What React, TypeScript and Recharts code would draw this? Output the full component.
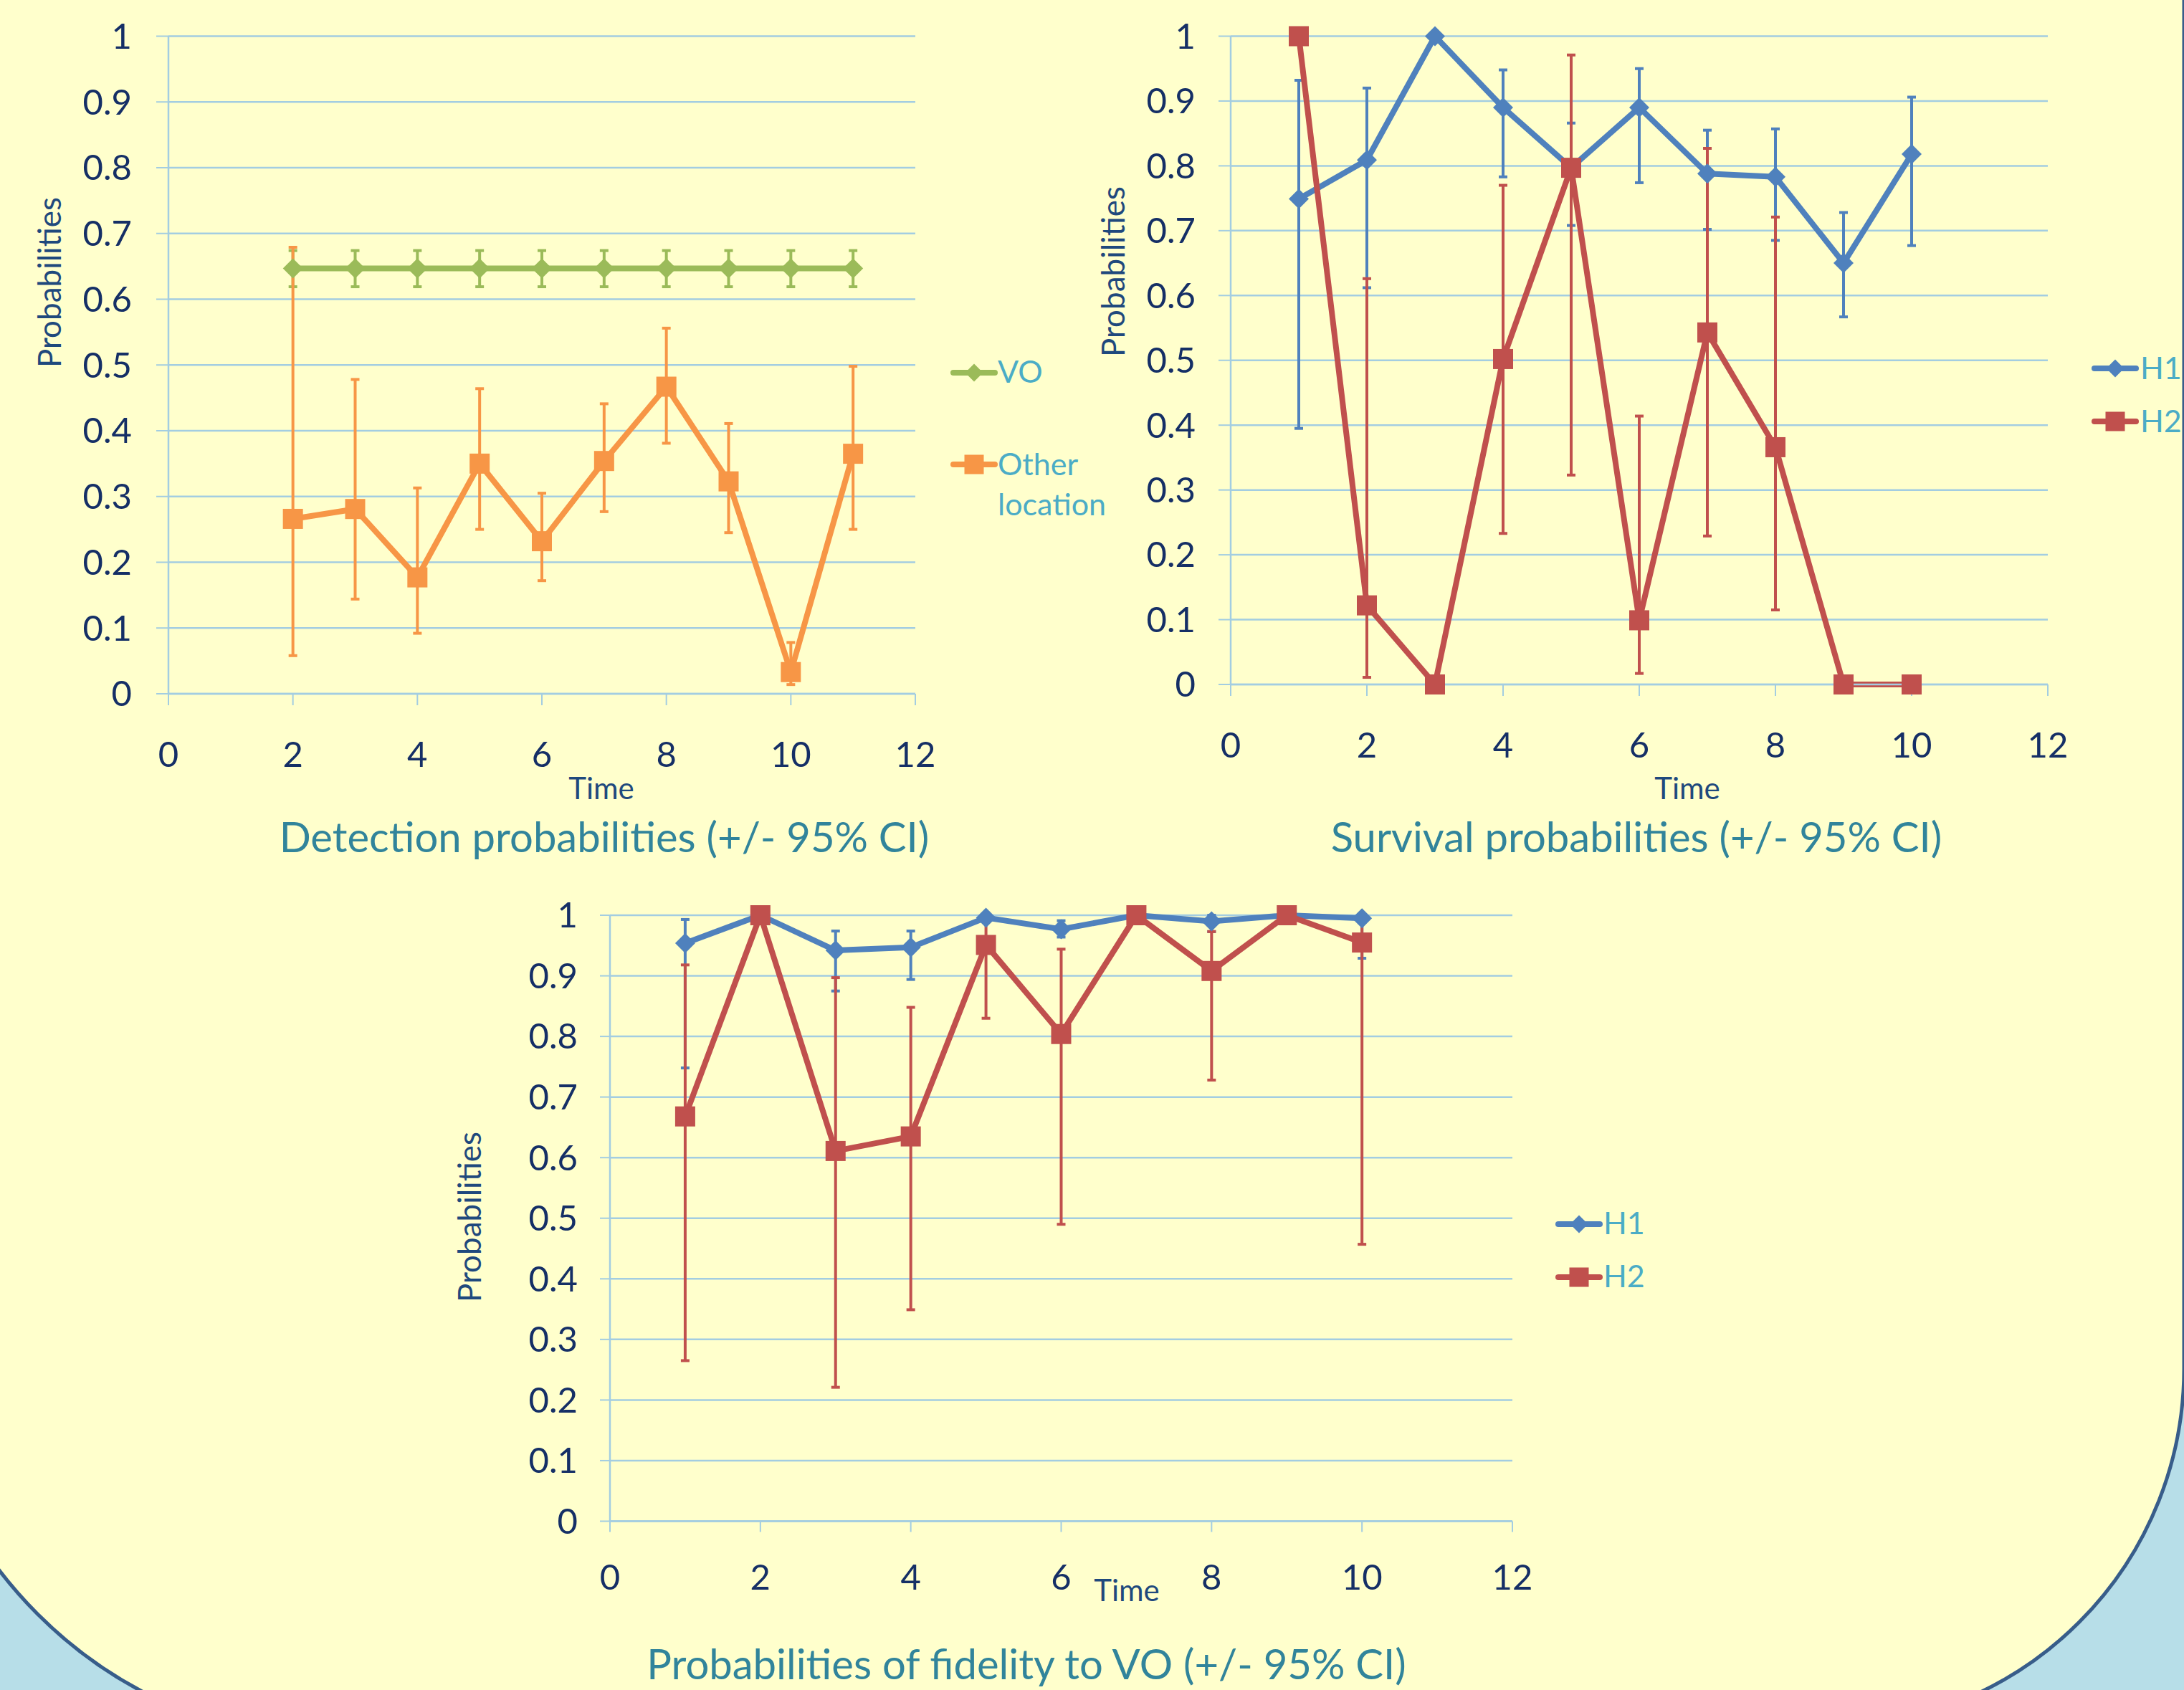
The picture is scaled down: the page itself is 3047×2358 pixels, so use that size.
import React from "react";
import { LineChart, Line, XAxis, YAxis, CartesianGrid, ErrorBar, Legend } from "recharts";

const FONT = "Lato, 'Open Sans', sans-serif";
const GRID = "#A3CDE1";
const TICK_TEXT = "#152F66";
const AXIS_TITLE = "#1F497D";
const CHART_TITLE = "#31849B";
const LEGEND_TEXT = "#4BACC6";

const GREEN = "#9BBB59";
const ORANGE = "#F79646";
const BLUE = "#4F81BD";
const RED = "#C0504D";

const xTicks = [0, 2, 4, 6, 8, 10, 12];
const yTicks = [0, 0.1, 0.2, 0.3, 0.4, 0.5, 0.6, 0.7, 0.8, 0.9, 1];

// Detection probabilities
const detTimes = [2, 3, 4, 5, 6, 7, 8, 9, 10, 11];
const voValues = [0.647, 0.647, 0.647, 0.647, 0.647, 0.647, 0.647, 0.647, 0.647, 0.647];
const voLow = [0.619, 0.619, 0.619, 0.619, 0.619, 0.619, 0.619, 0.619, 0.619, 0.619];
const voHigh = [0.674, 0.674, 0.674, 0.674, 0.674, 0.674, 0.674, 0.674, 0.674, 0.674];
const otherValues = [0.266, 0.281, 0.177, 0.35, 0.232, 0.354, 0.467, 0.323, 0.033, 0.365];
const otherLow = [0.058, 0.144, 0.092, 0.25, 0.172, 0.277, 0.381, 0.245, 0.014, 0.25];
const otherHigh = [0.679, 0.478, 0.313, 0.464, 0.305, 0.441, 0.556, 0.411, 0.078, 0.498];

// Survival probabilities
const survTimes = [1, 2, 3, 4, 5, 6, 7, 8, 9, 10];
const survH1 = [0.749, 0.809, 1.0, 0.89, 0.797, 0.89, 0.788, 0.783, 0.65, 0.818];
const survH1Low = [0.395, 0.612, null, 0.783, 0.708, 0.774, 0.702, 0.685, 0.567, 0.677];
const survH1High = [0.932, 0.92, null, 0.948, 0.866, 0.95, 0.855, 0.857, 0.728, 0.906];
const survH2 = [1.0, 0.122, 0, 0.502, 0.797, 0.099, 0.543, 0.366, 0, 0];
const survH2Low = [null, 0.011, null, 0.233, 0.323, 0.017, 0.229, 0.115, null, null];
const survH2High = [null, 0.626, null, 0.77, 0.971, 0.414, 0.827, 0.721, null, null];

// Fidelity to VO
const fidTimes = [1, 2, 3, 4, 5, 6, 7, 8, 9, 10];
const fidH1 = [0.954, 1.0, 0.942, 0.947, 0.996, 0.977, 1.0, 0.99, 1.0, 0.995];
const fidH1Low = [0.748, null, 0.875, 0.894, null, 0.964, null, 0.973, null, 0.929];
const fidH1High = [0.993, null, 0.974, 0.974, null, 0.991, null, 1.0, null, 1.0];
const fidH2 = [0.668, 1.0, 0.611, 0.635, 0.951, 0.804, 1.0, 0.908, 1.0, 0.955];
const fidH2Low = [0.265, null, 0.221, 0.349, 0.83, 0.49, null, 0.728, null, 0.457];
const fidH2High = [0.918, null, 0.897, 0.848, 0.99, 0.944, null, 0.973, null, 1.0];

type Shape = "diamond" | "square";
type Series = {
  key: string;
  lines: string[];
  color: string;
  shape: Shape;
  values: number[];
  low: (number | null)[];
  high: (number | null)[];
};

const r3 = (v: number) => Math.round(v * 1000) / 1000;

function buildRows(times: number[], series: Series[]) {
  return times.map((t, i) => {
    const row: Record<string, any> = { t };
    series.forEach((s) => {
      const v = s.values[i];
      const lo = s.low[i];
      const hi = s.high[i];
      row[s.key] = v;
      row[s.key + "Err"] = lo == null || hi == null ? null : [r3(v - lo), r3(hi - v)];
    });
    return row;
  });
}

function Marker({ cx, cy, shape, color, size }: any) {
  const h = size / 2;
  if (cx == null || cy == null) return null;
  if (shape === "diamond") {
    return <path d={`M${cx},${cy - h} L${cx + h},${cy} L${cx},${cy + h} L${cx - h},${cy} Z`} fill={color} />;
  }
  return <rect x={cx - h} y={cy - h} width={size} height={size} fill={color} />;
}

function XTick({ x, y, payload, offset }: any) {
  return (
    <text x={x} y={y + offset} textAnchor="middle" fill={TICK_TEXT} fontSize={49} fontFamily={FONT}>
      {payload.value}
    </text>
  );
}

type LegendRow = { y: number; baselines: number[] };

function LegendBox({ series, rows, x1, x2, mx, tx }: any) {
  return (
    <svg width={280} height={280} style={{ display: "block", overflow: "visible" }}>
      {series.map((s: Series, i: number) => {
        const r: LegendRow = rows[i];
        return (
          <g key={s.key}>
            <line x1={x1} x2={x2} y1={r.y} y2={r.y} stroke={s.color} strokeWidth={8} strokeLinecap="round" />
            <Marker cx={mx} cy={r.y} shape={s.shape} color={s.color} size={s.shape === "diamond" ? 25 : 27} />
            {s.lines.map((ln, j) => (
              <text key={j} x={tx} y={r.baselines[j]} fill={LEGEND_TEXT} fontSize={43} fontFamily={FONT}>
                {ln}
              </text>
            ))}
          </g>
        );
      })}
    </svg>
  );
}

type ChartCfg = {
  left: number;
  top: number;
  width: number;
  height: number;
  marginTop: number;
  marginRight: number;
  yAxisWidth: number;
  yTickSize: number;
  yTickMargin: number;
  xAxisHeight: number;
  xTickSize: number;
  xLabelOffset: number;
  legendLeft: number;
  legendTop: number;
  legendRows: LegendRow[];
  legendX: [number, number, number, number];
};

function ProbChart({ cfg, times, series }: { cfg: ChartCfg; times: number[]; series: Series[] }) {
  const rows = buildRows(times, series);
  const [lx1, lx2, lmx, ltx] = cfg.legendX;
  return (
    <div style={{ position: "absolute", left: cfg.left, top: cfg.top }}>
      <LineChart
        width={cfg.width}
        height={cfg.height}
        data={rows}
        margin={{ top: cfg.marginTop, right: cfg.marginRight, left: 0, bottom: 0 }}
      >
        <CartesianGrid vertical={false} stroke={GRID} strokeWidth={2.5} />
        <XAxis
          type="number"
          dataKey="t"
          domain={[0, 12]}
          ticks={xTicks}
          interval={0}
          height={cfg.xAxisHeight}
          tickSize={cfg.xTickSize}
          tickMargin={0}
          axisLine={{ stroke: GRID, strokeWidth: 2.5 }}
          tickLine={{ stroke: GRID, strokeWidth: 2 }}
          tick={<XTick offset={cfg.xLabelOffset} />}
        />
        <YAxis
          type="number"
          domain={[0, 1]}
          ticks={yTicks}
          interval={0}
          width={cfg.yAxisWidth}
          tickSize={cfg.yTickSize}
          tickMargin={cfg.yTickMargin}
          axisLine={{ stroke: GRID, strokeWidth: 2.5 }}
          tickLine={{ stroke: GRID, strokeWidth: 2 }}
          tick={{ fill: TICK_TEXT, fontSize: 49, fontFamily: FONT }}
          tickFormatter={(v: number) => String(v)}
        />
        <Legend
          layout="vertical"
          align="center"
          verticalAlign="middle"
          wrapperStyle={{ left: cfg.legendLeft, top: cfg.legendTop, width: 280, height: 280 }}
          content={() => <LegendBox series={series} rows={cfg.legendRows} x1={lx1} x2={lx2} mx={lmx} tx={ltx} />}
        />
        {series.map((s) => (
          <Line
            key={s.key}
            dataKey={s.key}
            stroke={s.color}
            strokeWidth={8}
            strokeLinejoin="round"
            isAnimationActive={false}
            activeDot={false}
            dot={(p: any) => (
              <Marker key={`${s.key}-${p.index}`} cx={p.cx} cy={p.cy} shape={s.shape} color={s.color} size={28} />
            )}
          >
            <ErrorBar
              dataKey={s.key + "Err"}
              direction="y"
              width={6}
              stroke={s.color}
              strokeWidth={4}
              isAnimationActive={false}
            />
          </Line>
        ))}
      </LineChart>
    </div>
  );
}

const detSeries: Series[] = [
  { key: "vo", lines: ["VO"], color: GREEN, shape: "diamond", values: voValues, low: voLow, high: voHigh },
  { key: "other", lines: ["Other", "location"], color: ORANGE, shape: "square", values: otherValues, low: otherLow, high: otherHigh },
];
const survSeries: Series[] = [
  { key: "h1", lines: ["H1"], color: BLUE, shape: "diamond", values: survH1, low: survH1Low, high: survH1High },
  { key: "h2", lines: ["H2"], color: RED, shape: "square", values: survH2, low: survH2Low, high: survH2High },
];
const fidSeries: Series[] = [
  { key: "h1", lines: ["H1"], color: BLUE, shape: "diamond", values: fidH1, low: fidH1Low, high: fidH1High },
  { key: "h2", lines: ["H2"], color: RED, shape: "square", values: fidH2, low: fidH2Low, high: fidH2High },
];

const detCfg: ChartCfg = {
  left: 0, top: 0, width: 1320, height: 1130,
  marginTop: 50.5, marginRight: 43,
  yAxisWidth: 235, yTickSize: 17, yTickMargin: 34,
  xAxisHeight: 162, xTickSize: 16, xLabelOffset: 86,
  legendLeft: 1320, legendTop: 470,
  legendRows: [{ y: 50, baselines: [64] }, { y: 178, baselines: [193, 249] }],
  legendX: [10, 68, 39, 72],
};
const survCfg: ChartCfg = {
  left: 1420, top: 0, width: 1627, height: 1130,
  marginTop: 50.5, marginRight: 190,
  yAxisWidth: 297, yTickSize: 17, yTickMargin: 32,
  xAxisHeight: 175, xTickSize: 16, xLabelOffset: 86,
  legendLeft: 1480, legendTop: 470,
  legendRows: [{ y: 44, baselines: [59] }, { y: 118, baselines: [133] }],
  legendX: [22, 80, 51, 86],
};
const fidCfg: ChartCfg = {
  left: 560, top: 1200, width: 1800, height: 1050,
  marginTop: 77, marginRight: 250,
  yAxisWidth: 291, yTickSize: 14, yTickMargin: 31,
  xAxisHeight: 127.5, xTickSize: 15, xLabelOffset: 80.5,
  legendLeft: 1590, legendTop: 460,
  legendRows: [{ y: 48, baselines: [62] }, { y: 122, baselines: [136] }],
  legendX: [24, 82, 53, 87],
};

const chartTitles = [
  { x: 843, y: 1189, text: "Detection probabilities (+/- 95% CI)" },
  { x: 2283, y: 1189, text: "Survival probabilities (+/- 95% CI)" },
  { x: 1432, y: 2343, text: "Probabilities of fidelity to VO (+/- 95% CI)" },
];
const timeLabels = [
  { x: 839, y: 1115 },
  { x: 2354, y: 1115 },
  { x: 1572, y: 2234 },
];
const probLabels = [
  { x: 85, y: 394 },
  { x: 1569, y: 379 },
  { x: 671, y: 1698 },
];

export default function App() {
  return (
    <div style={{ position: "absolute", left: 0, top: 0, width: 3047, height: 2358, overflow: "hidden" }}>
      <svg width={3047} height={2358} style={{ position: "absolute", left: 0, top: 0 }}>
        <rect x={0} y={0} width={3047} height={2358} fill="#B7DEE8" />
        <path
          d="M -300,-20 H 3047 V 1910 A 500 500 0 0 1 2547,2410 L 484,2431 A 610 610 0 0 1 -126,1821 Z"
          fill="#FFFFCC"
          stroke="#385D8A"
          strokeWidth={5}
        />
      </svg>
      <ProbChart cfg={detCfg} times={detTimes} series={detSeries} />
      <ProbChart cfg={survCfg} times={survTimes} series={survSeries} />
      <ProbChart cfg={fidCfg} times={fidTimes} series={fidSeries} />
      <svg width={3047} height={2358} style={{ position: "absolute", left: 0, top: 0, pointerEvents: "none" }}>
        {chartTitles.map((t) => (
          <text key={t.text} x={t.x} y={t.y} textAnchor="middle" fill={CHART_TITLE} fontSize={58} fontFamily={FONT}>
            {t.text}
          </text>
        ))}
        {timeLabels.map((t, i) => (
          <text key={i} x={t.x} y={t.y} textAnchor="middle" fill={AXIS_TITLE} fontSize={42} fontFamily={FONT}>
            Time
          </text>
        ))}
        {probLabels.map((t, i) => (
          <text
            key={i}
            transform={`translate(${t.x},${t.y}) rotate(-90)`}
            textAnchor="middle"
            fill={AXIS_TITLE}
            fontSize={44}
            fontFamily={FONT}
          >
            Probabilities
          </text>
        ))}
      </svg>
    </div>
  );
}
